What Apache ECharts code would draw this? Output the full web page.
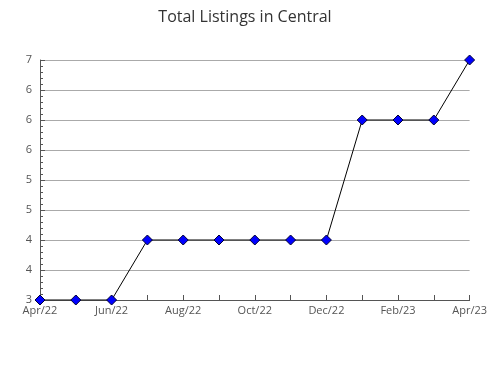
<!DOCTYPE html>
<html>
<head>
<meta charset="utf-8">
<script src="https://cdn.jsdelivr.net/npm/echarts@6/dist/echarts.min.js"></script>
<style>html,body{margin:0;padding:0;background:#fff}#c{width:490px;height:380px}</style>
</head>
<body>
<div id="c"></div>
<script>
var titleText = 'Total Listings in Central';
var months = ['Apr/22','May/22','Jun/22','Jul/22','Aug/22','Sep/22','Oct/22','Nov/22','Dec/22','Jan/23','Feb/23','Mar/23','Apr/23'];
var listings = [3,3,3,4,4,4,4,4,4,6,6,6,7];
var yTickValues = [3,3.5,4,4.5,5,5.5,6,6.5,7];
var yTickLabels = ['3','4','4','5','5','6','6','6','7'];

var chart = echarts.init(document.getElementById('c'));
chart.setOption({
  animation: false,
  title: {
    text: titleText, left: 'center', top: 4,
    textStyle: {fontFamily: 'Open Sans', fontSize: 16, fontWeight: 'normal', color: '#333'}
  },
  grid: {left: 40, right: 20, top: 60, bottom: 80},
  xAxis: {
    type: 'category', data: months, boundaryGap: false,
    axisLine: {lineStyle: {color: '#555', width: 1}},
    axisTick: {inside: true, length: 5, interval: 0, lineStyle: {color: '#555'}},
    axisLabel: {interval: 1, fontFamily: 'Open Sans', fontSize: 11, color: '#555', margin: 5},
    splitLine: {show: false}
  },
  yAxis: {
    type: 'value', min: 3, max: 7, interval: 0.5,
    axisLine: {show: true, lineStyle: {color: '#555', width: 1}},
    axisTick: {show: true, inside: true, length: 5, lineStyle: {color: '#555'}},
    minorTick: {show: true, splitNumber: 5, length: 3, lineStyle: {color: '#555'}},
    axisLabel: {
      fontFamily: 'Open Sans', fontSize: 11, color: '#555', margin: 8,
      formatter: function (v) {
        for (var i = 0; i < yTickValues.length; i++) {
          if (Math.abs(yTickValues[i] - v) < 1e-6) return yTickLabels[i];
        }
        return '';
      }
    },
    splitLine: {show: true, lineStyle: {color: '#aaa', width: 1}}
  },
  series: [{
    type: 'line', data: listings,
    lineStyle: {color: '#000', width: 1},
    symbol: 'diamond', symbolSize: 10,
    itemStyle: {color: '#0000ff', borderColor: '#000033', borderWidth: 1}
  }]
});
</script>
</body>
</html>
